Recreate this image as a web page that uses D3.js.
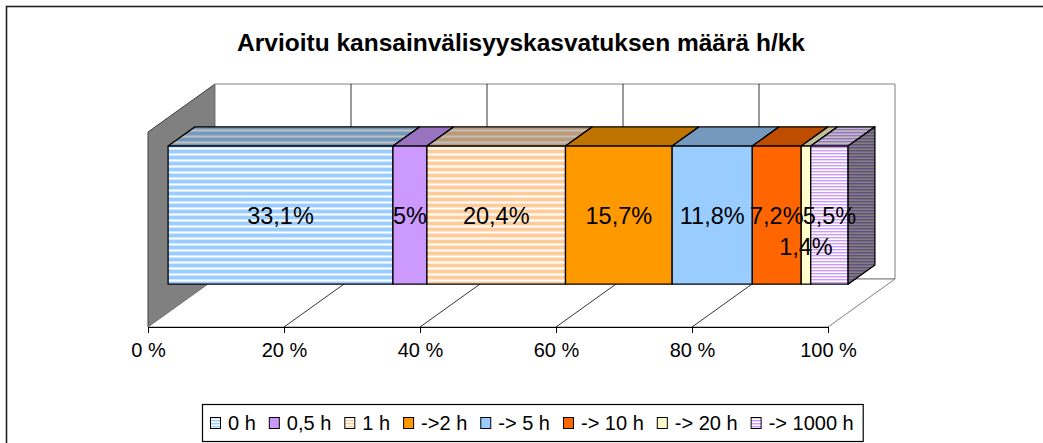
<!DOCTYPE html>
<html>
<head>
<meta charset="utf-8">
<script src="https://cdn.jsdelivr.net/npm/d3@7"></script>
<style>
  body { margin: 0; background: #fff; }
  text { font-family: Arial, "Liberation Sans", sans-serif; }
</style>
</head>
<body>
<script>
// data
var categories = ["0 h", "0,5 h", "1 h", "->2 h", "-> 5 h", "-> 10 h", "-> 20 h", "-> 1000 h"];
var values = [33.1, 5, 20.4, 15.7, 11.8, 7.2, 1.4, 5.5];
var tickValues = [0, 20, 40, 60, 80, 100];
var title = "Arvioitu kansainvälisyyskasvatuksen määrä h/kk";

// styling
var colors = ["#99CCFF", "#CC99FF", "#FFCC99", "#FF9900", "#99CCFF", "#FF6600", "#FFFFCC", "#CC99FF"];
var stripes = [6, 0, 6, 0, 0, 0, 0, 3]; // stripe period, 0 = plain

var W = 1043, H = 443;
var ox = 148, oy = 327;          // front-left corner of floor
var plotW = 680, plotH = 195;
var depthX = 67, depthY = -48;

var svg = d3.select("body").append("svg")
  .attr("width", W)
  .attr("height", H);

var defs = svg.append("defs");

// frame
svg.append("rect")
  .attr("x", 6.5).attr("y", 6.5)
  .attr("width", 1100).attr("height", 500)
  .attr("fill", "#fff")
  .attr("stroke", "#222")
  .attr("stroke-width", 1.6);

svg.append("text")
  .attr("x", 521).attr("y", 51)
  .attr("text-anchor", "middle")
  .attr("font-weight", "bold")
  .attr("font-size", 24.5)
  .text(title);

var x = d3.scaleLinear().domain([0, 100]).range([0, plotW]);
var total = d3.sum(values);
var xb = d3.scaleLinear().domain([0, total]).range([0, plotW]);
var h = d3.scaleLinear().domain([0, 1]).range([0, plotH]);

function P(px, d, hv) {
  return [ox + px + depthX * d, oy + depthY * d - h(hv)];
}
function poly(pts) {
  return pts.map(function(p) { return p.join(","); }).join(" ");
}
function shade(c, k) {
  var r = d3.rgb(c);
  return d3.rgb(r.r * k, r.g * k, r.b * k).formatHex();
}

// striped patterns
function pattern(id, c, period, k) {
  var p = defs.append("pattern")
    .attr("id", id)
    .attr("patternUnits", "userSpaceOnUse")
    .attr("width", 8).attr("height", period);
  var white = shade("#ffffff", k);
  var mid = d3.interpolateRgb(shade(c, k), white)(0.55);
  p.append("rect").attr("width", 8).attr("height", period).attr("fill", white);
  if (period === 6) {
    p.append("rect").attr("width", 8).attr("height", 3).attr("fill", shade(c, k));
    p.append("rect").attr("y", 3).attr("width", 8).attr("height", 1).attr("fill", mid);
    p.append("rect").attr("y", 5).attr("width", 8).attr("height", 1).attr("fill", mid);
  } else {
    p.append("rect").attr("width", 8).attr("height", 1.2).attr("fill", shade(c, k));
    p.append("rect").attr("y", 1.2).attr("width", 8).attr("height", 0.8).attr("fill", mid);
  }
  return "url(#" + id + ")";
}
function fill(i, k, face) {
  if (!stripes[i]) return shade(colors[i], k);
  return pattern("p" + i + face, colors[i], stripes[i], k);
}

// walls and floor
var walls = svg.append("g");
walls.append("polygon")
  .attr("points", poly([P(0, 0, 0), P(0, 1, 0), P(0, 1, 1), P(0, 0, 1)]))
  .attr("fill", "#808080").attr("stroke", "#404040");
walls.append("polygon")
  .attr("points", poly([P(0, 1, 0), P(plotW, 1, 0), P(plotW, 1, 1), P(0, 1, 1)]))
  .attr("fill", "#fff").attr("stroke", "#808080");
walls.append("polygon")
  .attr("points", poly([P(0, 0, 0), P(plotW, 0, 0), P(plotW, 1, 0), P(0, 1, 0)]))
  .attr("fill", "#fff").attr("stroke", "#808080");

// gridlines
tickValues.slice(1, -1).forEach(function(t) {
  walls.append("polyline")
    .attr("points", poly([P(x(t), 0, 0), P(x(t), 1, 0), P(x(t), 1, 1)]))
    .attr("fill", "none").attr("stroke", "#000").attr("stroke-width", 0.8);
});

// axis
var axis = d3.axisBottom(x)
  .tickValues(tickValues)
  .tickFormat(function(d) { return d + " %"; })
  .tickSize(6).tickPadding(10).tickSizeOuter(0);
var ga = svg.append("g")
  .attr("transform", "translate(" + ox + "," + oy + ")")
  .call(axis);
ga.selectAll("text").attr("font-size", 20).attr("fill", "#000")
  .style("font-family", "Arial, 'Liberation Sans', sans-serif");
ga.select(".domain").attr("stroke", "#000");
ga.selectAll(".tick line").attr("stroke", "#000");

// stacked bar
var ends = d3.cumsum(values);
var segs = values.map(function(v, i) {
  return { i: i, v: v, x0: xb(ends[i] - v), x1: xb(ends[i]) };
});
var d0 = 0.3, d1 = 0.7, h0 = 0.146, h1 = 0.854;
var bars = svg.append("g").attr("stroke", "#000").attr("stroke-width", 1.3).attr("stroke-linejoin", "round");

segs.forEach(function(s) {
  bars.append("polygon")
    .attr("points", poly([P(s.x0, d0, h1), P(s.x1, d0, h1), P(s.x1, d1, h1), P(s.x0, d1, h1)]))
    .attr("fill", fill(s.i, 0.75, "t"));
  bars.append("polygon")
    .attr("points", poly([P(s.x0, d0, h0), P(s.x1, d0, h0), P(s.x1, d0, h1), P(s.x0, d0, h1)]))
    .attr("fill", fill(s.i, 1, "f"));
});
var last = segs[segs.length - 1];
bars.append("polygon")
  .attr("points", poly([P(last.x1, d0, h0), P(last.x1, d1, h0), P(last.x1, d1, h1), P(last.x1, d0, h1)]))
  .attr("fill", fill(last.i, 0.5, "s"));

// value labels
var labelY = (P(0, d0, h0)[1] + P(0, d0, h1)[1]) / 2 + 9;
svg.append("g").selectAll("text")
  .data(segs)
  .join("text")
  .attr("x", function(s) { return P((s.x0 + s.x1) / 2, d0, 0)[0]; })
  .attr("y", function(s) { return s.v < 2 ? labelY + 31 : labelY; })
  .attr("text-anchor", "middle")
  .attr("font-size", 23.5)
  .text(function(s) { return String(s.v).replace(".", ",") + "%"; });

// legend
var lg = svg.append("g");
var box = lg.append("rect")
  .attr("fill", "#fff").attr("stroke", "#000").attr("stroke-width", 1.2);
var lx = 210, ly = 423;
categories.forEach(function(c, i) {
  lg.append("rect")
    .attr("x", lx + 0.5).attr("y", ly - 5.5)
    .attr("width", 10).attr("height", 11)
    .attr("fill", stripes[i] ? pattern("l" + i, colors[i], 3, 1) : colors[i])
    .attr("stroke", "#000").attr("stroke-width", 1);
  var t = lg.append("text")
    .attr("x", lx + 18).attr("y", ly + 7)
    .attr("font-size", 20)
    .text(c);
  lx += 18 + t.node().getComputedTextLength() + 13;
});
box.attr("x", 202.5).attr("y", 404.5).attr("width", lx - 13 + 9 - 202).attr("height", 37);
</script>
</body>
</html>
